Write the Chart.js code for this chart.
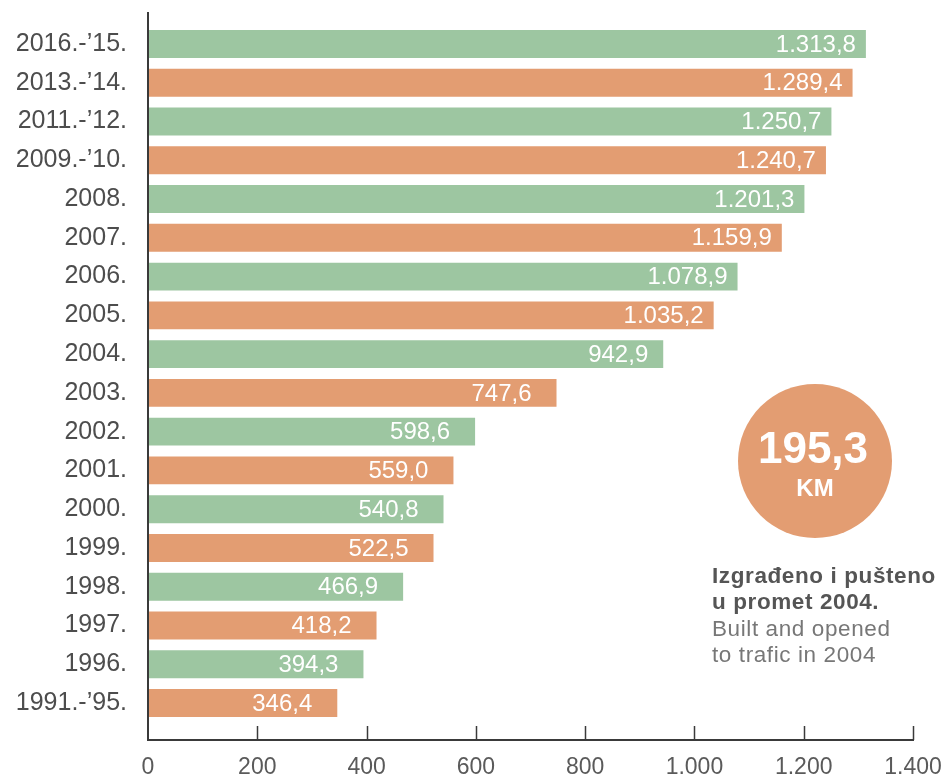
<!DOCTYPE html>
<html>
<head>
<meta charset="utf-8">
<script src="https://cdn.jsdelivr.net/npm/chart.js@4.4.0/dist/chart.umd.min.js"></script>
<style>
html, body { margin: 0; padding: 0; background: #fff; }
#wrap { width: 949px; height: 776px; }
</style>
</head>
<body>
<div id="wrap"><canvas id="chart" width="949" height="776"></canvas></div>
<script>
// data, top row first
var periods = ["2016.-\u201915.", "2013.-\u201914.", "2011.-\u201912.", "2009.-\u201910.",
    "2008.", "2007.", "2006.", "2005.", "2004.", "2003.", "2002.", "2001.", "2000.",
    "1999.", "1998.", "1997.", "1996.", "1991.-\u201995."];
var kilometres = [1313.8, 1289.4, 1250.7, 1240.7, 1201.3, 1159.9, 1078.9, 1035.2, 942.9,
    747.6, 598.6, 559.0, 540.8, 522.5, 466.9, 418.2, 394.3, 346.4];
var xTicks = [0, 200, 400, 600, 800, 1000, 1200, 1400];

var highlightValue = "195,3";
var highlightUnit = "KM";
var captionBold = ["Izgra\u0111eno i pu\u0161teno", "u promet 2004."];
var captionPlain = ["Built and opened", "to trafic in 2004"];

var GREEN = "#9dc6a1";
var ORANGE = "#e39d72";
var FONT = "'Liberation Sans', Arial, Helvetica, sans-serif";

// 1.313,8 style numbers
function fmt(v, decimals) {
    var parts = v.toFixed(decimals).split(".");
    var whole = parts[0].replace(/\B(?=(\d{3})+(?!\d))/g, ".");
    return parts.length > 1 ? whole + "," + parts[1] : whole;
}

var barColors = periods.map(function (p, i) {
    return i % 2 === 0 ? GREEN : ORANGE;
});

var AXIS_TOP = 12;
var AXIS_Y = 740;

var overlay = {
    id: "overlay",
    afterDraw: function (chart) {
        var ctx = chart.ctx;
        var area = chart.chartArea;
        var xs = chart.scales.x;

        ctx.save();
        // axis lines
        ctx.strokeStyle = "#3a3a3a";
        ctx.lineWidth = 2;
        ctx.beginPath();
        ctx.moveTo(area.left, AXIS_TOP);
        ctx.lineTo(area.left, AXIS_Y);
        ctx.lineTo(xs.getPixelForValue(xTicks[xTicks.length - 1]) + 1, AXIS_Y);
        ctx.stroke();
        ctx.lineWidth = 1.5;
        xTicks.forEach(function (t) {
            if (t === 0) return;
            var px = Math.round(xs.getPixelForValue(t)) + 0.5;
            ctx.beginPath();
            ctx.moveTo(px, AXIS_Y - 14);
            ctx.lineTo(px, AXIS_Y);
            ctx.stroke();
        });

        // value labels inside bars
        var meta = chart.getDatasetMeta(0);
        ctx.fillStyle = "#ffffff";
        ctx.font = "24px " + FONT;
        ctx.textAlign = "right";
        ctx.textBaseline = "middle";
        meta.data.forEach(function (bar, i) {
            var pad = kilometres[i] > 1000 ? 10 : (kilometres[i] > 900 ? 15 : 25);
            ctx.fillText(fmt(kilometres[i], 1), bar.x - pad, bar.y + 1);
        });

        // highlight circle
        ctx.fillStyle = ORANGE;
        ctx.beginPath();
        ctx.arc(815, 461, 77, 0, Math.PI * 2);
        ctx.fill();
        ctx.fillStyle = "#ffffff";
        ctx.textAlign = "center";
        ctx.textBaseline = "alphabetic";
        ctx.font = "bold 44px " + FONT;
        ctx.fillText(highlightValue, 813, 463);
        ctx.font = "bold 24px " + FONT;
        ctx.fillText(highlightUnit, 815, 496);

        // caption
        ctx.textAlign = "left";
        ctx.letterSpacing = "0.6px";
        ctx.fillStyle = "#555555";
        ctx.font = "bold 22.5px " + FONT;
        ctx.fillText(captionBold[0], 712, 583);
        ctx.fillText(captionBold[1], 712, 609);
        ctx.fillStyle = "#777777";
        ctx.font = "22.5px " + FONT;
        ctx.fillText(captionPlain[0], 712, 636);
        ctx.fillText(captionPlain[1], 712, 662);
        ctx.restore();
    }
};

var ctx = document.getElementById("chart").getContext("2d");
var chart = new Chart(ctx, {
    type: "bar",
    data: {
        labels: periods,
        datasets: [{
            data: kilometres,
            backgroundColor: barColors,
            borderWidth: 0,
            barPercentage: 0.72,
            categoryPercentage: 1.0
        }]
    },
    options: {
        indexAxis: "y",
        responsive: false,
        animation: false,
        layout: { padding: { top: 24.6, right: 36, left: 0, bottom: 0 } },
        plugins: {
            legend: { display: false },
            tooltip: { enabled: false }
        },
        scales: {
            x: {
                min: 0,
                max: 1400,
                afterFit: function (scale) { scale.height = 776 - 722.4; },
                afterBuildTicks: function (scale) {
                    scale.ticks = xTicks.map(function (v) { return { value: v }; });
                },
                // ticks are drawn by the overlay; tickLength only moves the labels down
                grid: { display: false, drawTicks: true, tickLength: 31 },
                border: { display: false },
                ticks: {
                    padding: 0,
                    color: "#5a5a5a",
                    font: { family: FONT, size: 23 },
                    maxRotation: 0,
                    callback: function (v) { return fmt(v, 0); }
                }
            },
            y: {
                afterFit: function (scale) { scale.width = 148; },
                grid: { display: false, drawTicks: true, tickLength: 21 },
                border: { display: false },
                ticks: {
                    padding: 0,
                    color: "#4d4d4d",
                    font: { family: FONT, size: 25 }
                }
            }
        }
    },
    plugins: [overlay]
});
</script>
</body>
</html>
